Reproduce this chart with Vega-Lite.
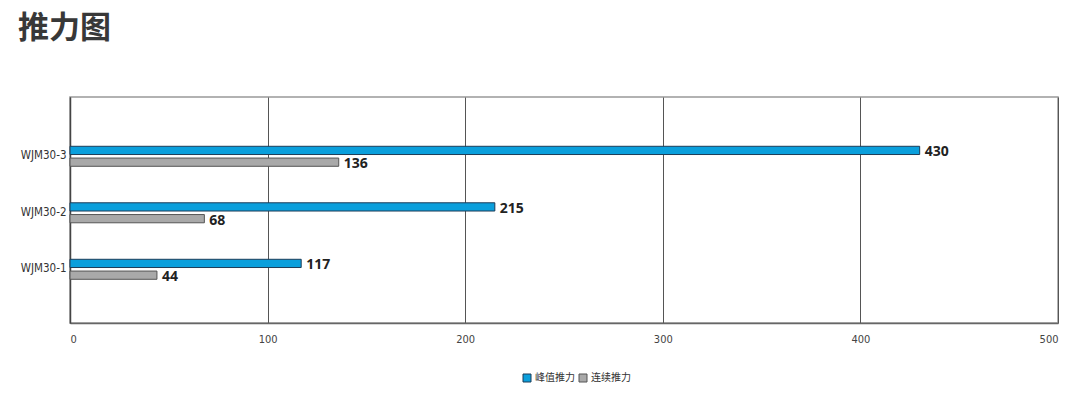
{
  "$schema": "https://vega.github.io/schema/vega-lite/v6.json",
  "autosize": {"type": "none"},
  "padding": {"left": 70, "top": 97, "right": 20, "bottom": 74},
  "width": 988,
  "height": 226,
  "background": "white",
  "title": {
    "text": "推力图",
    "anchor": "start",
    "frame": "group",
    "orient": "top",
    "dx": -52,
    "offset": 52,
    "font": "Noto Sans CJK SC",
    "fontSize": 31,
    "fontWeight": "bold",
    "color": "#383838"
  },
  "config": {
    "view": {"stroke": "#999999", "strokeWidth": 1.5},
    "axis": {"labelFont": "DejaVu Sans Condensed", "labelColor": "#444444", "labelFontSize": 11}
  },
  "data": {
    "values": [
      {"model": "WJM30-3", "series": "峰值推力", "value": 430},
      {"model": "WJM30-3", "series": "连续推力", "value": 136},
      {"model": "WJM30-2", "series": "峰值推力", "value": 215},
      {"model": "WJM30-2", "series": "连续推力", "value": 68},
      {"model": "WJM30-1", "series": "峰值推力", "value": 117},
      {"model": "WJM30-1", "series": "连续推力", "value": 44}
    ]
  },
  "encoding": {
    "y": {
      "field": "model",
      "type": "nominal",
      "sort": ["WJM30-3", "WJM30-2", "WJM30-1"],
      "scale": {"paddingInner": 0.646, "paddingOuter": 0.823, "align": 0.53},
      "axis": {
        "title": null,
        "ticks": false,
        "labelPadding": 4,
        "domainColor": "#444444",
        "domainWidth": 1.5,
        "labelColor": "#333333",
        "labelFontSize": 11.5
      }
    },
    "yOffset": {
      "field": "series",
      "type": "nominal",
      "sort": ["峰值推力", "连续推力"],
      "scale": {"paddingInner": 0.3}
    },
    "x": {
      "field": "value",
      "type": "quantitative",
      "scale": {"domain": [0, 500], "nice": false},
      "axis": {
        "title": null,
        "values": [0, 100, 200, 300, 400, 500],
        "ticks": false,
        "labelPadding": 10,
        "grid": true,
        "gridColor": "#555555",
        "gridWidth": 1,
        "domainColor": "#666666",
        "domainWidth": 1.5
      }
    }
  },
  "layer": [
    {
      "mark": {"type": "bar", "strokeWidth": 1},
      "encoding": {
        "color": {
          "field": "series",
          "type": "nominal",
          "scale": {"domain": ["峰值推力", "连续推力"], "range": ["#0a9fdc", "#a9a9a9"]},
          "legend": {
            "title": null,
            "orient": "none",
            "legendX": 452,
            "legendY": 276,
            "direction": "horizontal",
            "symbolType": "square",
            "symbolSize": 64,
            "symbolStrokeColor": "#333333",
            "symbolStrokeWidth": 1,
            "labelFont": "Noto Sans CJK SC",
            "labelFontSize": 10,
            "labelColor": "#333333",
            "columnPadding": 2,
            "labelOffset": 3
          }
        },
        "stroke": {
          "field": "series",
          "type": "nominal",
          "scale": {"domain": ["峰值推力", "连续推力"], "range": ["#1d3c58", "#555555"]},
          "legend": null
        }
      }
    },
    {
      "mark": {
        "type": "text",
        "align": "left",
        "baseline": "middle",
        "dx": 5,
        "dy": 2,
        "font": "Open Sans",
        "fontSize": 14,
        "fontWeight": "bold",
        "color": "#222222"
      },
      "encoding": {"text": {"field": "value", "type": "quantitative"}}
    }
  ]
}
